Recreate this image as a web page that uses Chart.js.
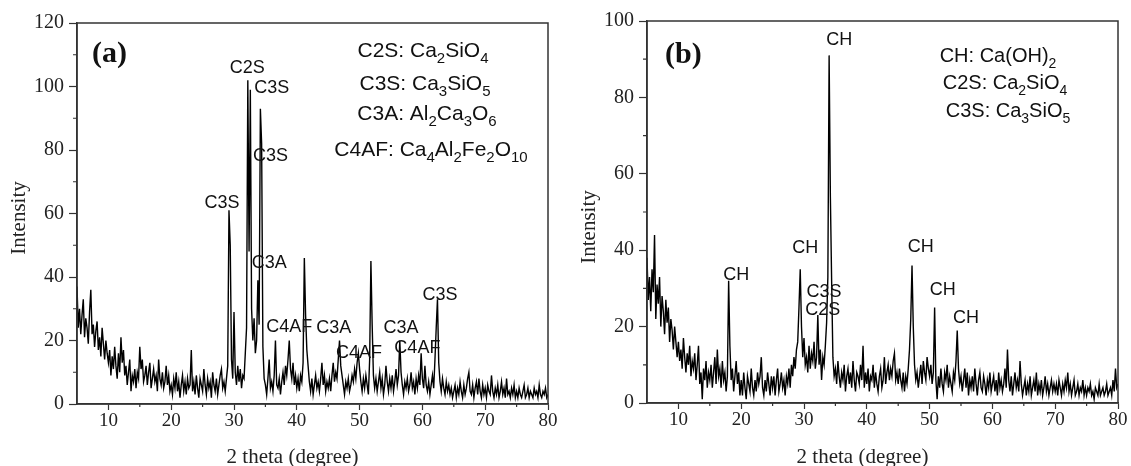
<!DOCTYPE html>
<html>
<head>
<meta charset="utf-8">
<title>XRD patterns (a) and (b)</title>
<script src="https://cdn.jsdelivr.net/npm/chart.js@4.4.1/dist/chart.umd.min.js"></script>
<style>
   html, body { margin: 0; padding: 0; background: #fff; overflow: hidden; }
   #wrap { position: relative; width: 1131px; height: 466px; }
   canvas { position: absolute; top: 0; }
   #chart-a { left: 0; }
   #chart-b { left: 565px; }
</style>
</head>
<body>
<div id="wrap">
   <canvas id="chart-a" width="565" height="466"></canvas>
   <canvas id="chart-b" width="566" height="466"></canvas>
</div>
<script>
// scan grid: 2 theta from 5 to 80 degree, one reading every 0.2 degree
const thetaStart = 5;
const thetaStep = 0.2;

// Intensity (a), one row = 5 degree
const intensityA = [
   37, 24, 30, 22, 28, 33, 21, 27, 24, 19, 29, 36, 22, 25, 18, 23, 26, 17, 21, 15, 24, 19, 14, 20, 16,
   13, 17, 9, 15, 11, 18, 12, 8, 16, 10, 21, 13, 17, 9, 12, 6, 10, 14, 4, 9, 7, 11, 5, 10, 8,
   18, 11, 14, 7, 9, 12, 6, 10, 13, 5, 8, 11, 7, 9, 4, 14, 8, 6, 10, 5, 7, 12, 6, 9, 4,
   6, 3, 8, 5, 10, 4, 7, 2, 6, 9, 4, 7, 3, 8, 5, 6, 17, 4, 7, 3, 9, 5, 2, 8, 6,
   4, 11, 6, 3, 8, 5, 7, 2, 10, 6, 4, 8, 3, 6, 9, 11, 5, 7, 4, 8, 12, 61, 50, 14, 8,
   29, 10, 6, 12, 7, 11, 5, 9, 8, 16, 24, 102, 48, 99, 30, 20, 27, 16, 20, 39, 25, 93, 82, 18, 8,
   6, 3, 8, 14, 5, 7, 4, 9, 20, 6, 5, 8, 3, 7, 10, 6, 12, 9, 14, 20, 11, 8, 13, 6, 9,
   5, 8, 4, 9, 7, 13, 46, 28, 17, 12, 7, 4, 8, 3, 6, 9, 5, 7, 4, 8, 13, 6, 9, 4, 7,
   5, 8, 4, 9, 13, 7, 10, 8, 14, 20, 12, 9, 6, 3, 7, 5, 8, 4, 6, 9, 7, 11, 8, 13, 16,
   11, 7, 4, 8, 5, 9, 6, 3, 14, 45, 25, 9, 5, 8, 4, 7, 10, 5, 8, 3, 6, 12, 7, 4, 8,
   5, 9, 4, 7, 11, 6, 9, 20, 10, 6, 3, 7, 5, 8, 4, 6, 10, 5, 7, 3, 8, 5, 9, 6, 16,
   8, 5, 12, 6, 4, 7, 3, 6, 9, 5, 14, 24, 33, 13, 7, 4, 8, 5, 3, 7, 4, 6, 3, 5, 2,
   4, 6, 2, 5, 3, 7, 4, 2, 6, 3, 5, 8, 10, 4, 3, 6, 2, 5, 7, 3, 8, 4, 2, 6, 3,
   5, 2, 6, 4, 3, 9, 4, 2, 5, 3, 6, 2, 4, 7, 3, 5, 2, 8, 3, 4, 2, 5, 3, 6, 2,
   4, 2, 5, 3, 2, 4, 6, 2, 3, 5, 2, 4, 3, 2, 5, 3, 4, 2, 6, 3, 2, 4, 3, 5, 2,
   3
];

// Intensity (b)
const intensityB = [
   38, 27, 33, 24, 35, 29, 44, 22, 31, 26, 33, 20, 28, 24, 18, 27, 21, 25, 16, 22, 19, 14, 20, 16, 12,
   16, 11, 14, 9, 17, 12, 8, 13, 10, 15, 7, 11, 9, 13, 6, 10, 15, 5, 8, 1, 9, 6, 11, 4, 8,
   6, 10, 4, 8, 12, 5, 14, 7, 9, 4, 11, 6, 8, 3, 7, 32, 15, 6, 9, 3, 7, 11, 5, 8, 2,
   6, 2, 8, 4, 1, 7, 5, 3, 9, 4, 2, 6, 3, 8, 5, 7, 12, 4, 2, 6, 3, 8, 5, 2, 7,
   4, 7, 2, 6, 9, 3, 5, 8, 4, 6, 2, 7, 5, 9, 4, 10, 7, 12, 9, 14, 16, 25, 35, 20, 12,
   17, 10, 12, 8, 15, 9, 13, 11, 16, 9, 12, 23, 10, 14, 6, 12, 10, 15, 21, 33, 91, 54, 32, 12, 7,
   9, 5, 11, 7, 4, 8, 6, 10, 3, 7, 9, 5, 8, 4, 11, 6, 3, 8, 7, 5, 10, 6, 15, 4, 8,
   5, 9, 3, 7, 6, 10, 4, 8, 5, 3, 7, 9, 4, 6, 12, 5, 8, 10, 6, 9, 7, 11, 13, 6, 8,
   5, 9, 6, 4, 8, 3, 7, 5, 9, 14, 22, 36, 20, 10, 6, 8, 4, 7, 10, 5, 11, 8, 6, 12, 9,
   7, 10, 5, 8, 25, 6, 1, 7, 4, 9, 5, 3, 8, 6, 10, 4, 7, 5, 3, 8, 6, 11, 19, 9, 5,
   7, 3, 6, 9, 4, 8, 2, 6, 4, 7, 3, 9, 5, 2, 6, 8, 4, 3, 7, 5, 2, 6, 4, 8, 3,
   5, 7, 3, 6, 2, 8, 4, 6, 3, 5, 9, 4, 14, 6, 3, 7, 2, 5, 8, 4, 6, 3, 11, 5, 2,
   4, 6, 2, 5, 3, 7, 2, 4, 6, 3, 8, 2, 5, 3, 6, 2, 4, 7, 3, 5, 2, 4, 6, 3, 5,
   3, 5, 2, 6, 4, 2, 5, 3, 6, 4, 8, 3, 5, 2, 4, 6, 2, 3, 5, 2, 4, 3, 6, 2, 4,
   2, 4, 3, 5, 2, 3, 1, 4, 3, 2, 5, 2, 3, 4, 2, 3, 5, 2, 3, 4, 2, 6, 3, 9, 4,
   5
];

// peak names and where they sit (2 theta, intensity)
const peakNamesA = ["C3S", "C2S", "C3S", "C3S", "C3A", "C4AF", "C3A", "C4AF", "C3A", "C4AF", "C3S"];
const peakThetaA = [28.1, 32.1, 36.0, 35.8, 35.6, 38.8, 45.9, 49.9, 56.6, 59.2, 62.8];
const peakIntA = [63.3, 105.8, 99.5, 78, 44.4, 24.3, 24, 16, 24, 17.6, 34.3];

const peakNamesB = ["CH", "CH", "C3S", "C2S", "CH", "CH", "CH", "CH"];
const peakThetaB = [19.2, 30.2, 33.2, 33.0, 35.6, 48.6, 52.1, 55.8];
const peakIntB = [33.5, 40.5, 29, 24.3, 95, 40.8, 29.6, 22.3];

// phase keys, "_n" = subscript
const phasesA = ["C2S: Ca_2SiO_4", "C3S: Ca_3SiO_5", "C3A: Al_2Ca_3O_6", "C4AF: Ca_4Al_2Fe_2O_10"];
const phasesB = ["CH: Ca(OH)_2", "C2S: Ca_2SiO_4", "C3S: Ca_3SiO_5"];

// ticks
const minorTheta = [15, 25, 35, 45, 55, 65, 75];
const minorIntA = [10, 30, 50, 70, 90, 110];
const minorIntB = [10, 30, 50, 70, 90];

const SERIF = '"Liberation Serif", "Times New Roman", serif';
const SANS = '"Liberation Sans", Arial, sans-serif';

function toPoints(values) {
   return values.map((v, i) => ({ x: thetaStart + i * thetaStep, y: v }));
}

// writes a formula like Ca_2SiO_4 centred on cx
function drawFormula(ctx, text, cx, baseline, size, subSize) {
   const parts = text.split(/_(\d+)/);
   let total = 0;
   parts.forEach((p, i) => {
      ctx.font = (i % 2 ? subSize : size) + "px " + SANS;
      total += ctx.measureText(p).width;
   });
   let x = cx - total / 2;
   parts.forEach((p, i) => {
      const sub = i % 2 === 1;
      ctx.font = (sub ? subSize : size) + "px " + SANS;
      ctx.fillText(p, x, baseline + (sub ? 6 : 0));
      x += ctx.measureText(p).width;
   });
}

const decorations = {
   id: "decorations",
   afterDraw(chart, args, opts) {
      const { ctx, chartArea: area, scales } = chart;
      const xs = scales.x;
      const ys = scales.y;
      ctx.save();

      // frame
      ctx.strokeStyle = "#333";
      ctx.lineWidth = 1.5;
      ctx.strokeRect(area.left, area.top, area.right - area.left, area.bottom - area.top);

      // minor ticks
      ctx.lineWidth = 1.2;
      ctx.beginPath();
      opts.minorX.forEach(v => {
         const px = xs.getPixelForValue(v);
         ctx.moveTo(px, area.bottom);
         ctx.lineTo(px, area.bottom + 3);
      });
      opts.minorY.forEach(v => {
         const py = ys.getPixelForValue(v);
         ctx.moveTo(area.left, py);
         ctx.lineTo(area.left - 4, py);
      });
      ctx.stroke();

      ctx.fillStyle = "#111";

      // peak names
      ctx.font = "18px " + SANS;
      ctx.textAlign = "center";
      ctx.textBaseline = "middle";
      opts.names.forEach((t, i) => {
         ctx.fillText(t, xs.getPixelForValue(opts.theta[i]), ys.getPixelForValue(opts.intensity[i]));
      });

      // panel tag
      ctx.font = "bold 30px " + SERIF;
      ctx.textAlign = "left";
      ctx.fillText(opts.tag, opts.tagX, opts.tagY);

      // phase key
      ctx.textBaseline = "alphabetic";
      opts.phases.forEach((t, i) => {
         drawFormula(ctx, t, opts.keyX[i], opts.keyY[i], opts.keySize, opts.keySub);
      });

      // axis titles
      ctx.fillStyle = "#222";
      ctx.font = "21px " + SERIF;
      ctx.textAlign = "center";
      ctx.fillText("2 theta (degree)", (area.left + area.right) / 2 - 20, 463);

      ctx.translate(opts.yTitleX, opts.yTitleY);
      ctx.rotate(-Math.PI / 2);
      ctx.textBaseline = "middle";
      ctx.fillText("Intensity", 0, 0);

      ctx.restore();
   }
};

function makeChart(id, values, yMax, yWidth, xHeight, padding, deco) {
   const ctx = document.getElementById(id);
   return new Chart(ctx, {
      type: "line",
      data: {
         datasets: [
            {
               data: toPoints(values),
               borderColor: "#000",
               borderWidth: 1.4,
               pointRadius: 0,
               tension: 0,
               fill: false,
            },
         ],
      },
      options: {
         responsive: false,
         animation: false,
         parsing: false,
         layout: { padding: padding },
         plugins: {
            legend: { display: false },
            tooltip: { enabled: false },
            decorations: deco,
         },
         scales: {
            x: {
               type: "linear",
               min: 5,
               max: 80,
               afterFit: s => { s.height = xHeight; },
               ticks: {
                  stepSize: 10,
                  includeBounds: false,
                  autoSkip: false,
                  maxRotation: 0,
                  padding: 0,
                  color: "#222",
                  font: { family: SERIF, size: 19 },
               },
               grid: { drawOnChartArea: false, drawTicks: true, tickLength: 6, tickColor: "#333", tickWidth: 1.2 },
               border: { display: true, color: "#333", width: 1.5 },
            },
            y: {
               min: 0,
               max: yMax,
               afterFit: s => { s.width = yWidth; },
               ticks: {
                  stepSize: 20,
                  autoSkip: false,
                  padding: 5,
                  color: "#222",
                  font: { family: SERIF, size: 20 },
               },
               grid: { drawOnChartArea: false, drawTicks: true, tickLength: 8, tickColor: "#333", tickWidth: 1.2 },
               border: { display: true, color: "#333", width: 1.5 },
            },
         },
      },
      plugins: [decorations],
   });
}

makeChart("chart-a", intensityA, 120, 77, 62, { left: 0, top: 23, right: 17, bottom: 0 }, {
   names: peakNamesA, theta: peakThetaA, intensity: peakIntA,
   minorX: minorTheta, minorY: minorIntA,
   tag: "(a)", tagX: 92, tagY: 54,
   phases: phasesA, keyX: [423, 425, 427, 431], keyY: [57, 90, 120, 156], keySize: 21, keySub: 15,
   yTitleX: 19, yTitleY: 218,
});

makeChart("chart-b", intensityB, 100, 82, 63, { left: 0, top: 21, right: 13, bottom: 0 }, {
   names: peakNamesB, theta: peakThetaB, intensity: peakIntB,
   minorX: minorTheta, minorY: minorIntB,
   tag: "(b)", tagX: 100, tagY: 55,
   phases: phasesB, keyX: [433, 440, 443], keyY: [62, 89, 117], keySize: 20, keySub: 14,
   yTitleX: 24, yTitleY: 227,
});
</script>
</body>
</html>
